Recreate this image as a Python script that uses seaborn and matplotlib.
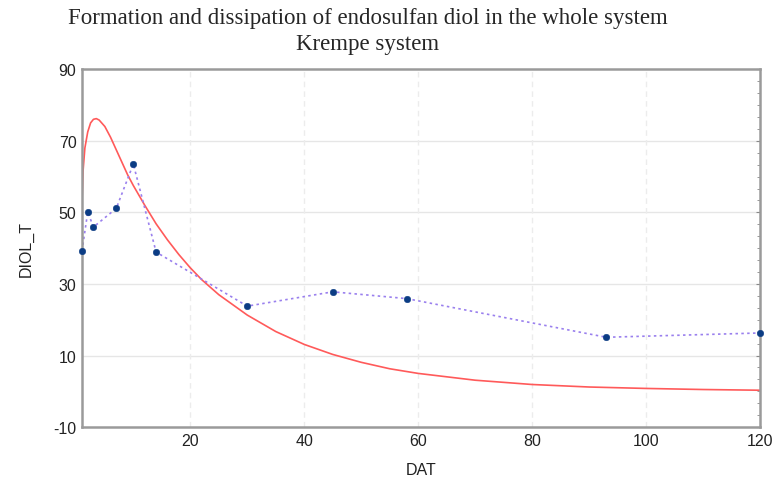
import matplotlib
matplotlib.use("Agg")
import matplotlib.pyplot as plt
import seaborn as sns
import pandas as pd
from matplotlib.ticker import AutoMinorLocator

# observed data
dat_obs = [1, 2, 3, 7, 10, 14, 30, 45, 58, 93, 120]
diol_obs = [39.3, 50.1, 45.9, 51.1, 63.5, 38.9, 23.8, 27.8, 25.9, 15.1, 16.3]

# fitted curve
dat_fit = [1, 1.2, 1.5, 2, 2.5, 3, 3.5, 4, 5, 6, 7, 8, 9, 10, 12, 14, 16, 18, 20,
           22, 25, 30, 35, 40, 45, 50, 55, 60, 70, 80, 90, 100, 110, 120]
diol_fit = [53.5, 62, 68, 72.5, 75, 76, 76.2, 75.8, 74, 71, 67.5, 64, 60.5, 57.5,
            52, 46.8, 42.3, 38.2, 34.5, 31.2, 27, 21.3, 16.7, 13.1, 10.3, 8.1,
            6.3, 5.0, 3.1, 1.9, 1.2, 0.8, 0.5, 0.3]

x_ticks = [20, 40, 60, 80, 100, 120]
y_ticks = [-10, 10, 30, 50, 70, 90]

obs = pd.DataFrame({"DAT": dat_obs, "DIOL_T": diol_obs})
fit = pd.DataFrame({"DAT": dat_fit, "DIOL_T": diol_fit})

sns.set_style("white")
plt.rcParams['font.family'] = ['Liberation Sans', 'DejaVu Sans']
plt.rcParams['axes.unicode_minus'] = False

fig = plt.figure(figsize=(7.74, 4.81), dpi=100)
ax = fig.add_axes([0.106, 0.110, 0.876, 0.744])

sns.lineplot(data=fit, x="DAT", y="DIOL_T", ax=ax, color="#ff5a5a", lw=1.2,
             sort=False, estimator=None)
sns.lineplot(data=obs, x="DAT", y="DIOL_T", ax=ax, color="#9a80ee", lw=1.2,
             linestyle=(0, (1.5, 2)), sort=False, estimator=None)
sns.scatterplot(data=obs, x="DAT", y="DIOL_T", ax=ax, color="#0b3c84", s=22,
                edgecolor="#0b3c84", zorder=5, clip_on=False)

ax.set_xlim(1, 120)
ax.set_ylim(-10, 90)
ax.set_xticks(x_ticks)
ax.set_yticks(y_ticks)
ax.xaxis.set_minor_locator(AutoMinorLocator(3))
ax.yaxis.set_minor_locator(AutoMinorLocator(6))

for y in y_ticks[1:-1]:
    ax.axhline(y, color="#e6e6e6", lw=1, zorder=0)
for x in x_ticks[:-1]:
    ax.axvline(x, color="#ececec", lw=1, ls=(0, (4, 3)), zorder=0)

for s in ax.spines.values():
    s.set_color("#9a9a9a")
    s.set_linewidth(1.8)

ax.tick_params(axis="both", which="major", direction="in", length=3, color="#888888",
               labelsize=11.5, labelcolor="#222222", pad=4)
ax.tick_params(axis="both", which="minor", direction="in", length=2, color="#888888")
ax.tick_params(axis="y", right=True, which="both")

ax.set_xlabel("DAT", fontsize=11.5, color="#222222", labelpad=10)
ax.set_ylabel("DIOL_T", fontsize=11.5, color="#222222", labelpad=14)

fig.text(0.475, 0.962, "Formation and dissipation of endosulfan diol in the whole system",
         ha="center", va="center", fontsize=16.5, family=["Liberation Serif"])
fig.text(0.475, 0.908, "Krempe system", ha="center", va="center", fontsize=16.5,
         family=["Liberation Serif"])

fig.savefig("out.png", dpi=100)
